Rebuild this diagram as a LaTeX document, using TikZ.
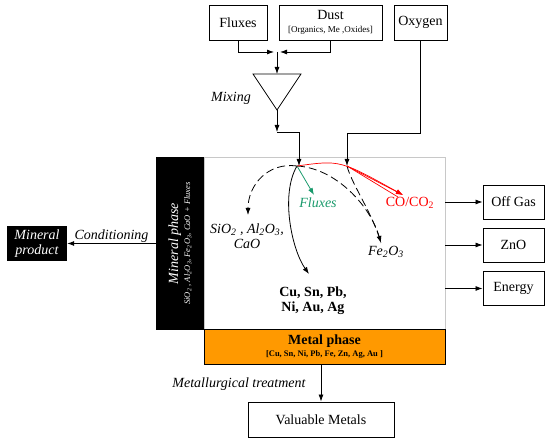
\documentclass[tikz,border=0pt]{standalone}
\usepackage{fontspec}
\setmainfont{Liberation Serif}
\usetikzlibrary{arrows.meta,calc}
\definecolor{metalor}{HTML}{FF9900}
\definecolor{fluxgr}{HTML}{1A9A6C}
\definecolor{wallgr}{HTML}{C8C8C8}
\tikzset{>={Latex[length=7pt,width=5pt]},
  procbox/.style={draw,line width=0.9pt,inner sep=0pt,align=center,minimum height=35},
  darkbox/.style={fill=black,text=white,inner sep=0pt,align=center},
  flow/.style={line width=0.8pt},
  dashflow/.style={line width=0.8pt,dash pattern=on 8pt off 4pt},
  lbl/.style={inner sep=1pt,align=center,font=\fontsize{14}{15}\selectfont\itshape}
}
\newcommand{\sub}[1]{\textsubscript{#1}}
\begin{document}
\begin{tikzpicture}[x=1pt,y=-1pt,font=\fontsize{14}{15}\selectfont]
\useasboundingbox (0,0) rectangle (550,443);
% feed boxes
\node[procbox,minimum width=58] (fluxes) at (238,22.5) {Fluxes};
\node[procbox,minimum width=103] (dust) at (330.5,22.5) {Dust\\[-2pt]{\fontsize{9}{10}\selectfont [Organics, Me ,Oxides]}};
\node[procbox,minimum width=53] (oxygen) at (420.5,22.5) {Oxygen};
% mixer
\coordinate (join) at (277,52);
\coordinate (mixtop) at (277,74);
\coordinate (mixapex) at (277,110);
\coordinate (bend) at (277,132);
\draw[line width=0.8pt] (253,74) -- (301,74) -- (mixapex) -- cycle;
\node[lbl] at (231,98) {Mixing};
\draw[flow,->] (fluxes.south) |- ($(join)+(-3,0)$);
\draw[flow,->] (dust.south) |- ($(join)+(3,0)$);
\draw[flow,->] (join) -- (mixtop);
% furnace
\node[draw=wallgr,line width=0.9pt,minimum width=241,minimum height=172] (reactor) at (324.5,243) {};
\node[darkbox,rotate=90,minimum width=173,minimum height=48] (mineral) at (180,243.5)
  {{\fontsize{14}{14}\selectfont\itshape Mineral phase}\\[-3pt]
   {\fontsize{8.5}{9}\selectfont\itshape SiO\sub{2} , Al\sub{2}O\sub{3}, Fe\sub{2}O\sub{3}, CaO + Fluxes}};
\node[procbox,fill=metalor,minimum width=241] (metal) at (324.5,346.5)
  {\textbf{Metal phase}\\[-3pt]{\fontsize{8.5}{9}\selectfont\bfseries [Cu, Sn, Ni, Pb, Fe, Zn, Ag, Au ]}};
\coordinate (src) at (297,166);
\coordinate (feed) at (299,166);
\coordinate (o2in) at (347,166);
\draw[flow,->] (mixapex) -- (bend);
\draw[flow,->] (bend) -| (feed);
\draw[flow,->] (oxygen.south) |- ($(o2in)+(0,-33)$) -- (o2in);
% reactions
\draw[dashflow,->] (src) .. controls (268,162) and (248,185) .. (248,215);
\draw[flow,->] (src) .. controls (280,195) and (292,250) .. (309,274);
\draw[flow,->,fluxgr] (src) -- (314,195);
\draw[dashflow] (o2in) .. controls (352,185) and (372,212) .. (381,243);
\draw[dashflow,->] (src) .. controls (335,168) and (370,205) .. (381,243);
\draw[line width=0.7pt,red] (o2in) -- (398,197);
\draw[line width=0.7pt,red,->] (o2in) -- (403,195);
\draw[line width=0.7pt,red,->] (src) .. controls (340,160) .. (403,195);
\node[lbl] (oxides) at (247,236) {SiO\sub{2} , Al\sub{2}O\sub{3},\\CaO};
\node[inner sep=1pt,align=center,font=\fontsize{14}{15}\selectfont\bfseries] (metals) at (313,300.5) {Cu, Sn, Pb,\\Ni, Au, Ag};
\node[lbl,text=fluxgr] (fluxout) at (318,203) {Fluxes};
\node[inner sep=1pt,text=red] (cogas) at (410,203) {CO/CO\sub{2}};
\node[lbl] (hematite) at (386,252) {Fe\sub{2}O\sub{3}};
% outputs
\node[procbox,minimum width=61,minimum height=34] (offgas) at (513.5,202) {Off Gas};
\node[procbox,minimum width=61,minimum height=34] (zno) at (513.5,245) {ZnO};
\node[procbox,minimum width=61,minimum height=34] (energy) at (513.5,288.5) {Energy};
\foreach \out in {offgas,zno,energy}
  \draw[flow,->] (reactor.east |- \out.west) -- (\out.west);
\node[darkbox,minimum width=60,minimum height=35,font=\fontsize{14}{15}\selectfont\itshape] (product) at (37,243.5) {Mineral\\product};
\draw[flow,->] (mineral.north) -- (product.east) node[lbl,midway,above] {Conditioning};
\node[procbox,minimum width=146] (valuable) at (321,419.5) {Valuable Metals};
\draw[flow,->] (valuable.north |- metal.south) -- (valuable.north);
\node[lbl] at (239,384) {Metallurgical treatment};
\end{tikzpicture}
\end{document}
